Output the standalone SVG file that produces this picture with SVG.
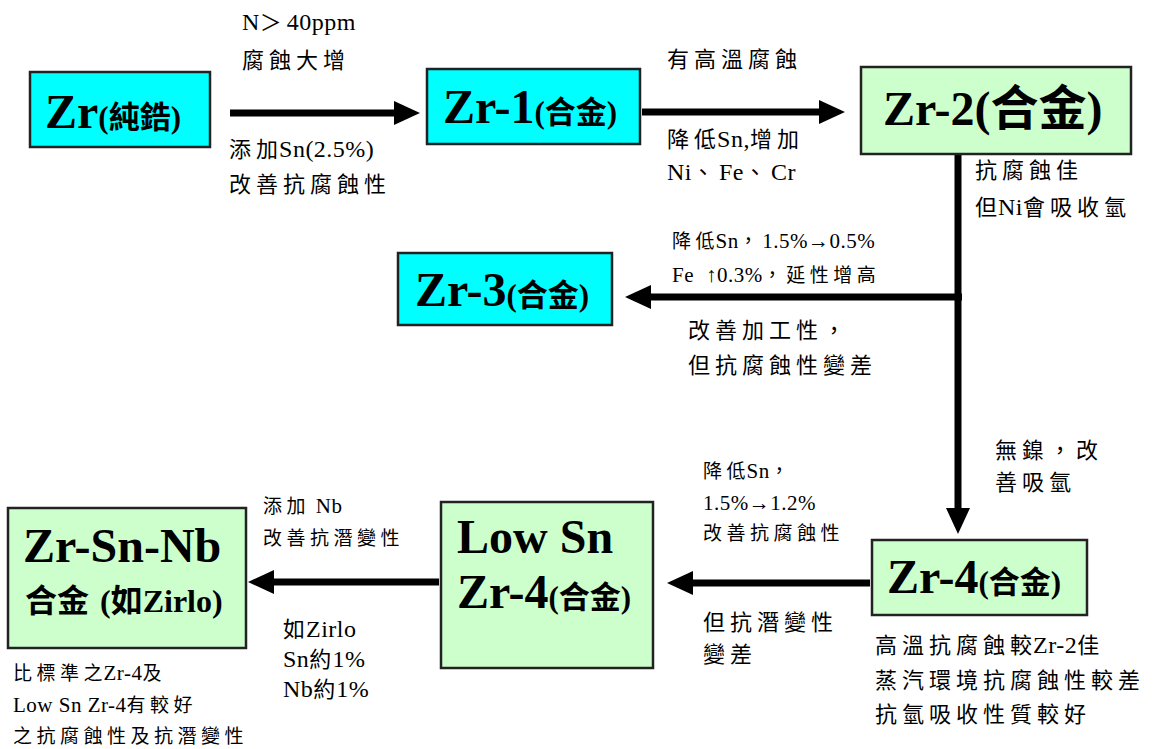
<svg xmlns="http://www.w3.org/2000/svg" width="1162" height="749" viewBox="0 0 1162 749">
<defs>
<style>
.box{stroke:#222;stroke-width:2.5}
.cy{fill:#00FFFF}
.gr{fill:#CCFFCC}
.nt{font-family:"Liberation Serif","Noto Sans CJK TC",serif;font-weight:bold;fill:#000}
.big{font-size:48px}
.sm{font-size:31px}
.an{font-family:"Liberation Serif","Noto Sans CJK TC",serif;font-size:24px;letter-spacing:0.5px;fill:#000}
.as{font-family:"Liberation Serif","Noto Sans CJK TC",serif;font-size:21px;letter-spacing:0.5px;fill:#000}
.an .c{font-size:22px;letter-spacing:5px}
.as .c{font-size:19px;letter-spacing:4.5px}
.an .k{font-size:22px;letter-spacing:1px}
.as .k{font-size:19px;letter-spacing:1px}
.ln{stroke:#000;stroke-width:7;fill:none}
</style>
<marker id="ah" markerUnits="userSpaceOnUse" markerWidth="26" markerHeight="24" refX="2" refY="12" orient="auto" viewBox="0 0 26 24">
<path d="M0,0 L26,12 L0,24 z" fill="#000"/>
</marker>
</defs>
<rect width="1162" height="749" fill="#fff"/>

<g id="connectors">
<line class="ln" x1="230" y1="113" x2="396" y2="113" marker-end="url(#ah)"/>
<line class="ln" x1="642" y1="112" x2="821" y2="112" marker-end="url(#ah)"/>
<line class="ln" x1="958" y1="154" x2="958" y2="510" marker-end="url(#ah)"/>
<line class="ln" x1="962" y1="297" x2="649" y2="297" marker-end="url(#ah)"/>
<line class="ln" x1="870" y1="583" x2="691" y2="583" marker-end="url(#ah)"/>
<line class="ln" x1="439" y1="582" x2="272" y2="582" marker-end="url(#ah)"/>
</g>

<g id="node-zr">
<rect class="box cy" x="30" y="72" width="180" height="75"/>
<text class="nt" x="45" y="128"><tspan class="big">Zr</tspan><tspan class="sm">(純鋯)</tspan></text>
</g>

<g id="node-zr1">
<rect class="box cy" x="427" y="69" width="213" height="75"/>
<text class="nt" x="443" y="123"><tspan class="big">Zr-1</tspan><tspan class="sm">(合金)</tspan></text>
</g>

<g id="node-zr2">
<rect class="box gr" x="861" y="67" width="270" height="87"/>
<text class="nt big" x="883" y="125">Zr-2(合金)</text>
</g>

<g id="node-zr3">
<rect class="box cy" x="398" y="253" width="214" height="72"/>
<text class="nt" x="415" y="306"><tspan class="big">Zr-3</tspan><tspan class="sm">(合金)</tspan></text>
</g>

<g id="node-zr4">
<rect class="box gr" x="872" y="540" width="215" height="75"/>
<text class="nt" x="887" y="593"><tspan class="big">Zr-4</tspan><tspan class="sm">(合金)</tspan></text>
</g>

<g id="node-lowsn">
<rect class="box gr" x="441" y="502" width="212" height="166"/>
<text class="nt big" x="457" y="553">Low Sn</text>
<text class="nt" x="457" y="608"><tspan class="big">Zr-4</tspan><tspan class="sm">(合金)</tspan></text>
</g>

<g id="node-zrsnnb">
<rect class="box gr" x="8" y="508" width="238" height="140"/>
<text class="nt big" x="23" y="562">Zr-Sn-Nb</text>
<text class="nt" y="612" font-size="32"><tspan x="25">合金</tspan><tspan x="100">(如Zirlo)</tspan></text>
</g>

<g id="labels">
<text class="an" x="242" y="30">N<tspan class="c">＞</tspan>40ppm</text>
<text class="an" x="242" y="68"><tspan class="c">腐蝕大增</tspan></text>
<text class="an" x="229" y="157"><tspan class="c">添</tspan><tspan class="k">加</tspan>Sn(2.5%)</text>
<text class="an" x="229" y="192"><tspan class="c">改善抗腐蝕性</tspan></text>
<text class="an" x="667" y="67"><tspan class="c">有高溫腐蝕</tspan></text>
<text class="an" x="667" y="147"><tspan class="c">降</tspan><tspan class="k">低</tspan>Sn,<tspan class="c">增加</tspan></text>
<text class="an" x="667" y="180">Ni<tspan class="c">、</tspan>Fe<tspan class="c">、</tspan>Cr</text>
<text class="an" x="975" y="178"><tspan class="c">抗腐蝕佳</tspan></text>
<text class="an" x="975" y="215"><tspan class="k">但</tspan>Ni<tspan class="c">會吸收氫</tspan></text>
<text class="as" x="672" y="248"><tspan class="c">降</tspan><tspan class="k">低</tspan>Sn<tspan class="c">，</tspan>1.5%→0.5%</text>
<text class="as" x="672" y="282">Fe<tspan dx="12">↑0.3%</tspan><tspan class="c">，延性增高</tspan></text>
<text class="an" x="688" y="338"><tspan class="c">改善加工性，</tspan></text>
<text class="an" x="688" y="373"><tspan class="c">但抗腐蝕性變差</tspan></text>
<text class="an" x="995" y="458"><tspan class="c">無鎳，改</tspan></text>
<text class="an" x="995" y="490"><tspan class="c">善吸氫</tspan></text>
<text class="as" x="703" y="478"><tspan class="c">降</tspan><tspan class="k">低</tspan>Sn<tspan class="c">，</tspan></text>
<text class="as" x="703" y="510">1.5%→1.2%</text>
<text class="as" x="703" y="540"><tspan class="c">改善抗腐蝕性</tspan></text>
<text class="an" x="703" y="630"><tspan class="c">但抗潛變性</tspan></text>
<text class="an" x="703" y="662"><tspan class="c">變差</tspan></text>
<text class="an" x="875" y="653"><tspan class="c">高溫抗腐蝕</tspan><tspan class="k">較</tspan>Zr-2<tspan class="c">佳</tspan></text>
<text class="an" x="875" y="688"><tspan class="c">蒸汽環境抗腐蝕性較差</tspan></text>
<text class="an" x="875" y="722"><tspan class="c">抗氫吸收性質較好</tspan></text>
<text class="as" x="263" y="513"><tspan class="c">添加</tspan> Nb</text>
<text class="as" x="263" y="545"><tspan class="c">改善抗潛變性</tspan></text>
<text class="an" x="283" y="637"><tspan class="k">如</tspan>Zirlo</text>
<text class="an" x="283" y="667">Sn<tspan class="k">約</tspan>1%</text>
<text class="an" x="283" y="697">Nb<tspan class="k">約</tspan>1%</text>
<text class="as" x="13" y="680"><tspan class="c">比標準</tspan><tspan class="k">之</tspan>Zr-4<tspan class="c">及</tspan></text>
<text class="as" x="13" y="712">Low Sn Zr-4<tspan class="c">有較好</tspan></text>
<text class="as" x="13" y="743"><tspan class="c">之抗腐蝕性及抗潛變性</tspan></text>
</g>
</svg>
